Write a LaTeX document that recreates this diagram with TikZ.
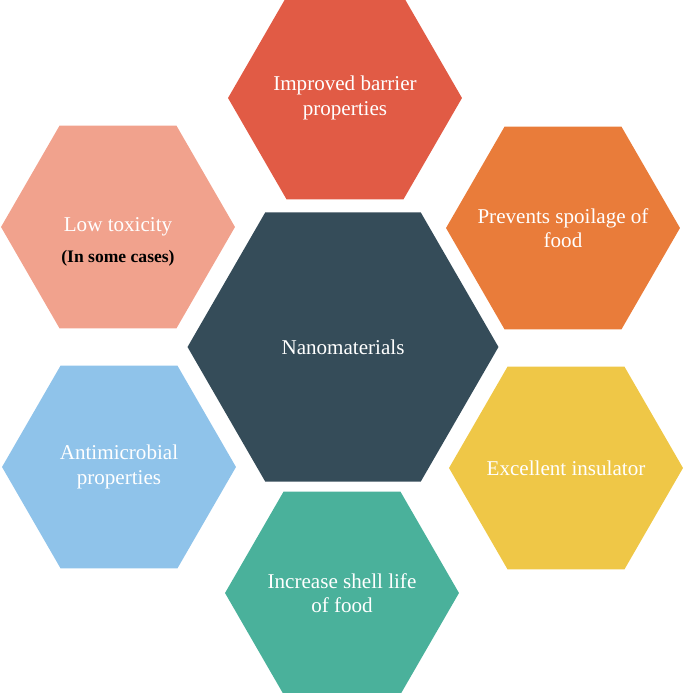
\documentclass[tikz,border=0pt]{standalone}
\usepackage{fontspec}
\setmainfont{Liberation Serif}
\usepackage{tikz}
\usetikzlibrary{shapes.geometric}
\definecolor{slate}{HTML}{354C59}
\definecolor{brick}{HTML}{E15B45}
\definecolor{salmon}{HTML}{F1A28D}
\definecolor{tangerine}{HTML}{E97C3A}
\definecolor{sky}{HTML}{8FC3EA}
\definecolor{mustard}{HTML}{EFC747}
\definecolor{jade}{HTML}{4AB19B}
\tikzset{
  hexcell/.style={shape=regular polygon, regular polygon sides=6, minimum size=4.68cm,
                  inner sep=0pt},
  hexcore/.style={hexcell, minimum size=6.22cm},
  hexlabel/.style={align=center, text=white, inner sep=0pt,
                   font=\fontsize{12}{14}\selectfont},
  aside/.style={font=\fontsize{10}{12}\selectfont\bfseries, text=black},
}

\begin{document}
\begin{tikzpicture}[x=0.02cm, y=-0.02cm]
        \useasboundingbox (0,0) rectangle (685,693);
        % hexagon cells
        \node[hexcore, fill=slate] (nano) at (343,347) {};
        \node[hexcell, fill=brick] (barrier) at (345,98) {};
        \node[hexcell, fill=salmon] (toxic) at (118,227) {};
        \node[hexcell, fill=tangerine] (spoil) at (563,228) {};
        \node[hexcell, fill=sky] (microbe) at (119,467) {};
        \node[hexcell, fill=mustard] (insul) at (566,468) {};
        \node[hexcell, fill=jade] (shelf) at (342,593) {};
        % texts
        \node[hexlabel] (nano-t) at (nano) {Nanomaterials};
        \node[hexlabel] (barrier-t) at (barrier) {Improved barrier\\properties};
        \node[hexlabel] (toxic-t) at (toxic) {Low toxicity};
        \node[aside] (cases) at (118,258) {(In some cases)};
        \node[hexlabel] (spoil-t) at (spoil) {Prevents spoilage of\\food};
        \node[hexlabel] (microbe-t) at (microbe) {Antimicrobial\\properties};
        \node[hexlabel] (insul-t) at (insul) {Excellent insulator};
        \node[hexlabel] (shelf-t) at (shelf) {Increase shell life\\of food};
      \end{tikzpicture}
\end{document}
